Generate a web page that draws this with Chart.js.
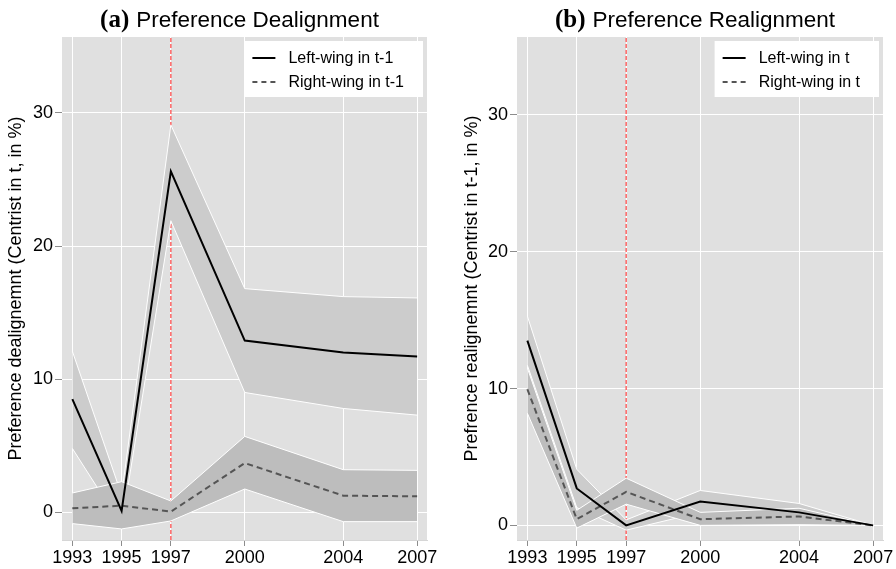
<!DOCTYPE html>
<html><head><meta charset="utf-8">
<script src="https://cdn.jsdelivr.net/npm/chart.js@4.4.1/dist/chart.umd.min.js"></script>
<style>
html,body{margin:0;padding:0;background:#fff;}
#wrap{position:relative;width:896px;height:569px;overflow:hidden;}
.pane{position:absolute;top:0;width:448px;height:569px;}
canvas{display:block;}
</style></head><body>
<div id="wrap">
<div class="pane" style="left:0"><canvas id="ca" width="448" height="569"></canvas></div>
<div class="pane" style="left:448px"><canvas id="cb" width="448" height="569"></canvas></div>
</div>
<script>
// ---- data ----
const years = [1993, 1995, 1997, 2000, 2004, 2007];
const yTicks = [0, 10, 20, 30];
const reformYear = 1997;

// (a) Preference Dealignment
const aLeft    = [8.5, 0.1, 25.6, 12.9, 12.0, 11.7];
const aLeftHi  = [12.1, 1.3, 29.1, 16.8, 16.2, 16.1];
const aLeftLo  = [4.8, -1.0, 21.9, 9.0, 7.8, 7.3];
const aRight   = [0.3, 0.5, 0.05, 3.7, 1.25, 1.2];
const aRightHi = [1.45, 2.3, 0.85, 5.7, 3.2, 3.15];
const aRightLo = [-0.85, -1.25, -0.65, 1.75, -0.7, -0.7];

// (b) Preference Realignment
const bLeft    = [13.5, 2.7, 0.0, 1.75, 0.95, 0.0];
const bLeftHi  = [15.3, 4.1, 0.4, 2.55, 1.6, 0.0];
const bLeftLo  = [11.7, 1.3, -0.35, 0.95, 0.3, 0.0];
const bRight   = [9.95, 0.45, 2.45, 0.45, 0.65, 0.0];
const bRightHi = [11.5, 1.1, 3.45, 0.95, 1.25, 0.0];
const bRightLo = [8.2, -0.2, 1.55, 0.0, 0.05, 0.0];

const SANS = '"Liberation Sans", Arial, Helvetica, sans-serif';
const SERIF = '"Liberation Serif", "Times New Roman", serif';

function pts(vals){ return years.map((y,i)=>({x:y, y:vals[i]})); }

const bgPlugin = {
  id:'bg',
  beforeDraw(chart){
    const {ctx, chartArea:a} = chart;
    ctx.save(); ctx.fillStyle = '#e0e0e0';
    ctx.fillRect(a.left, a.top, a.right-a.left, a.bottom-a.top);
    ctx.restore();
  }
};

const decoPlugin = {
  id:'deco',
  afterDraw(chart, args, opts){
    const {ctx, chartArea:a} = chart;
    ctx.save();
    // title
    ctx.fillStyle = '#000';
    ctx.textBaseline = 'alphabetic';
    ctx.font = 'bold 25px ' + SERIF;
    const w1 = ctx.measureText(opts.tag).width;
    ctx.font = '22.5px ' + SANS;
    const w2 = ctx.measureText(opts.title).width;
    const gap = 7;
    let x = (a.left + a.right)/2 - 5 - (w1+gap+w2)/2;
    ctx.font = 'bold 25px ' + SERIF;
    ctx.fillText(opts.tag, x, 27);
    ctx.font = '22.5px ' + SANS;
    ctx.fillText(opts.title, x + w1 + gap, 27);
    // legend
    const items = [0,1].map(i=>chart.data.datasets[i]);
    ctx.font = '16px ' + SANS;
    const tw = Math.max(...items.map(d=>ctx.measureText(d.label).width));
    const bw = 44 + tw + 19, bh = 56;
    const bx = a.right - 4 - bw, by = a.top + 4;
    ctx.fillStyle = '#fff';
    ctx.fillRect(bx, by, bw, bh);
    items.forEach((d,i)=>{
      const y = by + 17 + i*24;
      ctx.beginPath();
      ctx.strokeStyle = d.borderColor; ctx.lineWidth = 2;
      ctx.setLineDash(d.borderDash && d.borderDash.length ? [5,4] : []);
      ctx.moveTo(bx+8, y); ctx.lineTo(bx+31, y); ctx.stroke();
      ctx.setLineDash([]);
      ctx.fillStyle = '#000'; ctx.textBaseline = 'middle';
      ctx.fillText(d.label, bx+44, y+1);
    });
    ctx.restore();
  }
};

function makeChart(id, o){
  const tickFont = {family: SANS, size: 18};
  return new Chart(document.getElementById(id), {
    type:'line',
    data:{ datasets:[
      {label:o.legL, data:pts(o.L), borderColor:'#000', borderWidth:2, pointRadius:0, fill:false, order:1},
      {label:o.legR, data:pts(o.R), borderColor:'#555', borderWidth:2, borderDash:[6,4], pointRadius:0, fill:false, order:2},
      {label:'rhi', data:pts(o.RHi), borderColor:'#fff', borderWidth:1, pointRadius:0, backgroundColor:'#bdbdbd', fill:'+1', order:5},
      {label:'rlo', data:pts(o.RLo), borderColor:'#fff', borderWidth:1, pointRadius:0, fill:false, order:4},
      {label:'lhi', data:pts(o.LHi), borderColor:'#fff', borderWidth:1, pointRadius:0, backgroundColor:'#cccccc', fill:'+1', order:7},
      {label:'llo', data:pts(o.LLo), borderColor:'#fff', borderWidth:1, pointRadius:0, fill:false, order:6},
      {label:'reform', data:[{x:reformYear,y:o.yMin},{x:reformYear,y:o.yMax}], borderColor:'#ff5050', borderWidth:1.3, borderDash:[4,2], pointRadius:0, fill:false, order:9}
    ]},
    options:{
      responsive:false, animation:false,
      layout:{padding:{top:37, right:o.padR, bottom:0, left:0}},
      plugins:{legend:{display:false}, tooltip:{enabled:false}, deco:{tag:o.tag, title:o.title}},
      elements:{line:{tension:0}},
      scales:{
        x:{type:'linear', min:1992.58, max:2007.4,
          afterBuildTicks:s=>{s.ticks = years.map(v=>({value:v}));},
          ticks:{font:tickFont, color:'#000', padding:1, maxRotation:0, autoSkip:false, callback:v=>String(v)},
          grid:{color:'#fff', lineWidth:1, tickColor:'#8c8c8c', tickLength:6},
          border:{display:true, color:'#d6d6d6'},
          afterFit:s=>{s.height=29; s.paddingLeft=0; s.paddingRight=0;}
        },
        y:{type:'linear', min:o.yMin, max:o.yMax,
          afterBuildTicks:s=>{s.ticks = yTicks.map(v=>({value:v}));},
          ticks:{font:tickFont, color:'#000', padding:2, callback:v=>String(v)},
          grid:{color:'#fff', lineWidth:1, tickColor:'#8c8c8c', tickLength:7},
          border:{display:false},
          title:{display:true, text:o.yTitle, color:'#000', font:{family:SANS, size:18}, padding:{top:o.titlePad, bottom:0}},
          afterFit:s=>{s.width=o.yW; s.paddingTop=0; s.paddingBottom=0;}
        }
      }
    },
    plugins:[bgPlugin, decoPlugin]
  });
}

makeChart('ca', {L:aLeft, LHi:aLeftHi, LLo:aLeftLo, R:aRight, RHi:aRightHi, RLo:aRightLo,
  legL:'Left-wing in t-1', legR:'Right-wing in t-1', tag:'(a)', title:'Preference Dealignment',
  yTitle:'Preference dealignemnt (Centrist in t, in %)', yMin:-2.08, yMax:35.7, yW:62, padR:21, titlePad:5});
makeChart('cb', {L:bLeft, LHi:bLeftHi, LLo:bLeftLo, R:bRight, RHi:bRightHi, RLo:bRightLo,
  legL:'Left-wing in t', legR:'Right-wing in t', tag:'(b)', title:'Preference Realignment',
  yTitle:'Prefrence realignemnt (Centrist in t-1, in %)', yMin:-1.07, yMax:35.7, yW:69, padR:13, titlePad:13});
</script>
</body></html>
